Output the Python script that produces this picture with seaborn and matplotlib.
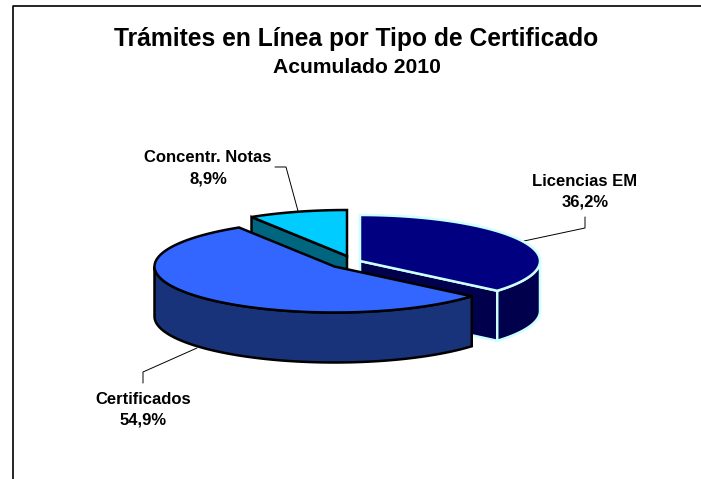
import numpy as np
import matplotlib
matplotlib.use("Agg")
import matplotlib.pyplot as plt
import seaborn as sns

categories = ["Licencias EM", "Certificados", "Concentr. Notas"]
shares = [36.2, 54.9, 8.9]
percent_labels = ["36,2%", "54,9%", "8,9%"]
title = "Trámites en Línea por Tipo de Certificado"
subtitle = "Acumulado 2010"
top_colors = ["#000080", "#3366FF", "#00CCFF"]
side_colors = ["#00004D", "#19337A", "#00667F"]
edge_colors = ["#CCFFFF", "#000000", "#000000"]

sns.set_theme(style="white")
plt.rcParams["font.family"] = ["Liberation Sans", "DejaVu Sans"]

RX, RY, DEPTH = 180, 46, 50
centers = {0: (360, 261), 1: (334.5, 266.5), 2: (347, 256)}
EDGE_W = 1.8

fig = plt.figure(figsize=(7.01, 4.79), dpi=100)
ax = fig.add_axes([0, 0, 1, 1])
ax.set_xlim(0, 701)
ax.set_ylim(479, 0)
ax.axis("off")

bounds = 360 * np.cumsum([0] + shares) / sum(shares)


def rim(i, a0, a1, n=80):
    t = np.radians(np.linspace(a0, a1, n))
    cx, cy = centers[i]
    return cx + RX * np.sin(t), cy - RY * np.cos(t)


def draw(x, y, i, color, z):
    ax.fill(x, y, facecolor=color, edgecolor=edge_colors[i], linewidth=EDGE_W,
            joinstyle="miter", zorder=z)


def side(i, a0, a1, z):
    x, y = rim(i, a0, a1)
    draw(np.r_[x, x[::-1]], np.r_[y, y[::-1] + DEPTH], i, side_colors[i], z)


def cut(i, angle, z):
    cx, cy = centers[i]
    x, y = rim(i, angle, angle, 1)
    draw([cx, x[0], x[0], cx], [cy, y[0], y[0] + DEPTH, cy + DEPTH], i, side_colors[i], z)


def top(i, z):
    cx, cy = centers[i]
    x, y = rim(i, bounds[i], bounds[i + 1])
    draw(np.r_[cx, x], np.r_[cy, y], i, top_colors[i], z)


# back slice
cut(2, bounds[2], 2)
top(2, 3)
# exploded right slice
cut(0, bounds[1], 4)
side(0, 90, bounds[1], 5)
top(0, 6)
# large slice in front
side(1, bounds[1], 270, 7)
top(1, 8)

# outer frame
sns.lineplot(x=[13, 13, 701], y=[479, 6, 6], sort=False, color="black", lw=1.2,
             ax=ax, estimator=None, zorder=1)

# leader lines
leaders = [([524, 585, 585], [241, 228, 217]),
           ([197, 143, 143], [348, 372, 383]),
           ([298, 286, 275], [211, 167, 167])]
for lx, ly in leaders:
    ax.plot(lx, ly, color="black", lw=0.7, zorder=1.5, solid_joinstyle="miter")

ax.text(356, 38.5, title, ha="center", va="center", fontsize=17.75, fontweight="bold", color="black")
ax.text(357, 67, subtitle, ha="center", va="center", fontsize=15.2, fontweight="bold", color="black")

label_pos = {0: (585, 191.5), 1: (143.5, 409.5), 2: (208, 168.5)}
for i, (name, pct) in enumerate(zip(categories, percent_labels)):
    ax.text(*label_pos[i], f"{name}\n{pct}", ha="center", va="center", fontsize=12,
            fontweight="bold", color="black", linespacing=1.5)

fig.savefig("out.png", dpi=100)
